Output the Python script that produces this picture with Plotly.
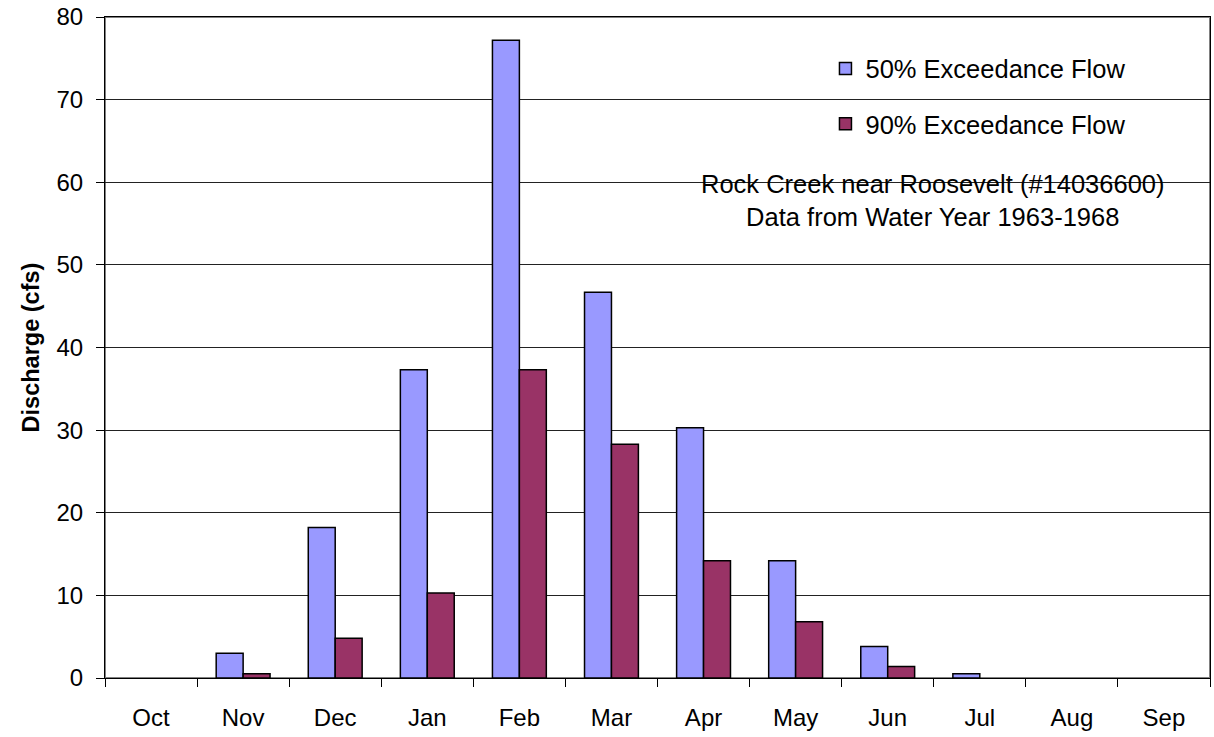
import plotly.graph_objects as go

months = ["Oct", "Nov", "Dec", "Jan", "Feb", "Mar", "Apr", "May", "Jun", "Jul", "Aug", "Sep"]
# None = no bar drawn in the original
flow_50 = [None, 3.0, 18.2, 37.3, 77.2, 46.7, 30.3, 14.2, 3.8, 0.5, None, None]
flow_90 = [None, 0.5, 4.8, 10.3, 37.3, 28.3, 14.2, 6.8, 1.4, None, None, None]

font_family = "Liberation Sans, Arial, sans-serif"

fig = go.Figure()
fig.add_trace(go.Bar(x=months, y=flow_50, name="50% Exceedance Flow", legendgroup="a",
                     marker=dict(color="#9999FF", line=dict(color="black", width=1.5))))
fig.add_trace(go.Bar(x=months, y=flow_90, name="90% Exceedance Flow", legendgroup="b",
                     marker=dict(color="#993366", line=dict(color="black", width=1.5))))

fig.update_layout(
    width=1214, height=737,
    margin=dict(l=105, r=4, t=17, b=59, autoexpand=False),
    paper_bgcolor="white", plot_bgcolor="white",
    font=dict(family=font_family, size=24, color="black"),
    barmode="group", bargap=0.415, bargroupgap=0,
    showlegend=True,
    legend=dict(x=0.652, y=0.957, xanchor="left", yanchor="top",
                bgcolor="rgba(0,0,0,0)", font=dict(size=25.5),
                traceorder="grouped", tracegroupgap=19),
)

fig.update_xaxes(showline=True, linecolor="black", linewidth=1, mirror=True,
                 ticks="outside", ticklen=8, tickcolor="black", tickson="boundaries",
                 ticklabelstandoff=18, showgrid=False)
fig.update_yaxes(range=[0, 80], dtick=10, showline=True, linecolor="black", linewidth=1,
                 mirror=True, ticks="outside", ticklen=8, tickcolor="black",
                 ticklabelstandoff=8, ticklabeloverflow="allow",
                 showgrid=True, gridcolor="#222222", gridwidth=1,
                 zeroline=False,
                 title=dict(text="<b>Discharge (cfs)</b>", standoff=10,
                            font=dict(size=23.5)))

# white boxes behind legend and note that hide gridlines
fig.add_shape(type="rect", xref="paper", yref="paper", x0=0.629, x1=0.957, y0=0.80, y1=0.965,
              fillcolor="white", line=dict(width=0), layer="between")
fig.add_shape(type="rect", xref="paper", yref="paper", x0=0.520, x1=0.973, y0=0.65, y1=0.79,
              fillcolor="white", line=dict(width=0), layer="between")
# gray plot frame
fig.add_shape(type="rect", xref="paper", yref="paper", x0=0, x1=1, y0=0, y1=1,
              line=dict(color="#808080", width=2), layer="below")

fig.add_annotation(xref="paper", yref="paper", x=0.749, y=0.723,
                   xanchor="center", yanchor="middle",
                   text="Rock Creek near Roosevelt (#14036600)<br>Data from Water Year 1963-1968",
                   showarrow=False, font=dict(size=25.5), align="center")

# drop the default 8px page margin so the figure fills the window
fig.write_html("out.html", config={"displayModeBar": False},
               post_script="document.body.style.margin='0';")
